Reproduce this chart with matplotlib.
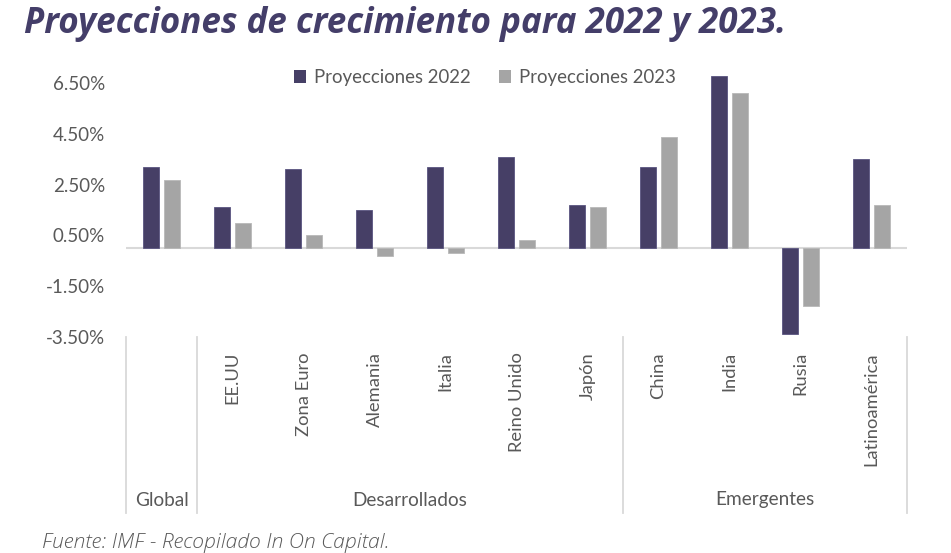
import matplotlib
matplotlib.use("Agg")
import matplotlib.pyplot as plt
from matplotlib.transforms import blended_transform_factory
from matplotlib.lines import Line2D
from matplotlib.patches import Patch
import numpy as np

categories = ["Global", "EE.UU", "Zona Euro", "Alemania", "Italia", "Reino Unido",
              "Japón", "China", "India", "Rusia", "Latinoamérica"]
proy_2022 = [3.2, 1.6, 3.1, 1.5, 3.2, 3.6, 1.7, 3.2, 6.8, -3.4, 3.5]
proy_2023 = [2.7, 1.0, 0.5, -0.3, -0.2, 0.3, 1.6, 4.4, 6.1, -2.3, 1.7]
groups = ["Global", "Desarrollados", "Emergentes"]
group_sizes = [1, 6, 4]
y_ticks = [-3.5, -1.5, 0.5, 2.5, 4.5, 6.5]
series_names = ["Proyecciones 2022", "Proyecciones 2023"]

C22 = "#463F66"
C23 = "#A5A5A5"
TXT = "#595959"
LINE = "#D9D9D9"

W, H = 951, 553
fig = plt.figure(figsize=(W / 100, H / 100), dpi=100)

def fx(px):
    return px / W

def fy(py):
    return (H - py) / H

ax_left, ax_right = 126, 907
y_min, y_max = -3.5, 7.5
px_per = 25.34
zero_y = 248.0
ax_top = zero_y - y_max * px_per
ax_bot = zero_y - y_min * px_per
ax = fig.add_axes([fx(ax_left), fy(ax_bot), fx(ax_right) - fx(ax_left), fy(ax_top) - fy(ax_bot)])

x = np.arange(len(categories))
bw = 0.225
off = 0.142
ax.bar(x - off, proy_2022, width=bw, color=C22, edgecolor="#5a5580", linewidth=0.6, zorder=3)
ax.bar(x + off, proy_2023, width=bw, color=C23, edgecolor="#b8b8b8", linewidth=0.6, zorder=3)
ax.axhline(0, color=LINE, linewidth=1.5, zorder=2)

ax.set_xlim(-0.5, len(categories) - 0.5)
ax.set_ylim(y_min, y_max)
ax.set_yticks(y_ticks)
ax.set_yticklabels([f"{v:.2f}%" for v in y_ticks], fontfamily="Lato", fontsize=13.5, color=TXT)
ax.tick_params(axis="y", length=0, pad=15)
ax.set_xticks([])
for s in ax.spines.values():
    s.set_visible(False)
ax.patch.set_alpha(0)

# legend
handles = [Patch(facecolor=C22), Patch(facecolor=C23)]
leg = ax.legend(handles, series_names, loc="upper center", bbox_to_anchor=(fx(485), fy(69)),
                bbox_transform=fig.transFigure, ncol=2, frameon=False,
                prop={"family": "Lato", "size": 13.4}, handlelength=0.65, handleheight=0.65,
                handletextpad=0.4, columnspacing=1.55, borderpad=0, borderaxespad=0)
for t in leg.get_texts():
    t.set_color(TXT)

# category labels
tr = blended_transform_factory(ax.transData, fig.transFigure)
for i, c in enumerate(categories):
    if i == 0:
        continue
    fig.text(i, fy(352), c, rotation=90, ha="center", va="top", transform=tr,
             fontfamily="Lato", fontsize=13.2, color=TXT)

# group separators and labels
bounds = [-0.5]
for g in group_sizes:
    bounds.append(bounds[-1] + g)
for b in bounds:
    fig.add_artist(Line2D([b, b], [fy(337), fy(513)], transform=tr, color=LINE, linewidth=1.3))
for g, a, b in zip(groups, bounds[:-1], bounds[1:]):
    fig.text((a + b) / 2, fy(500), g, ha="center", va="center", transform=tr,
             fontfamily="Lato", fontsize=13.7, color=TXT)

# title & footer
fig.text(fx(24), fy(33), "Proyecciones de crecimiento para 2022 y 2023.", ha="left", va="baseline",
         fontfamily="Open Sans", fontweight="bold", fontstyle="italic", fontsize=25.2, color="#443E69")
fig.text(fx(42), fy(543), "Fuente: IMF - Recopilado In On Capital.", ha="left", va="center",
         fontfamily="Open Sans", fontweight="light", fontstyle="italic", fontsize=15.2, color=TXT)

fig.savefig("out.png", dpi=100)
